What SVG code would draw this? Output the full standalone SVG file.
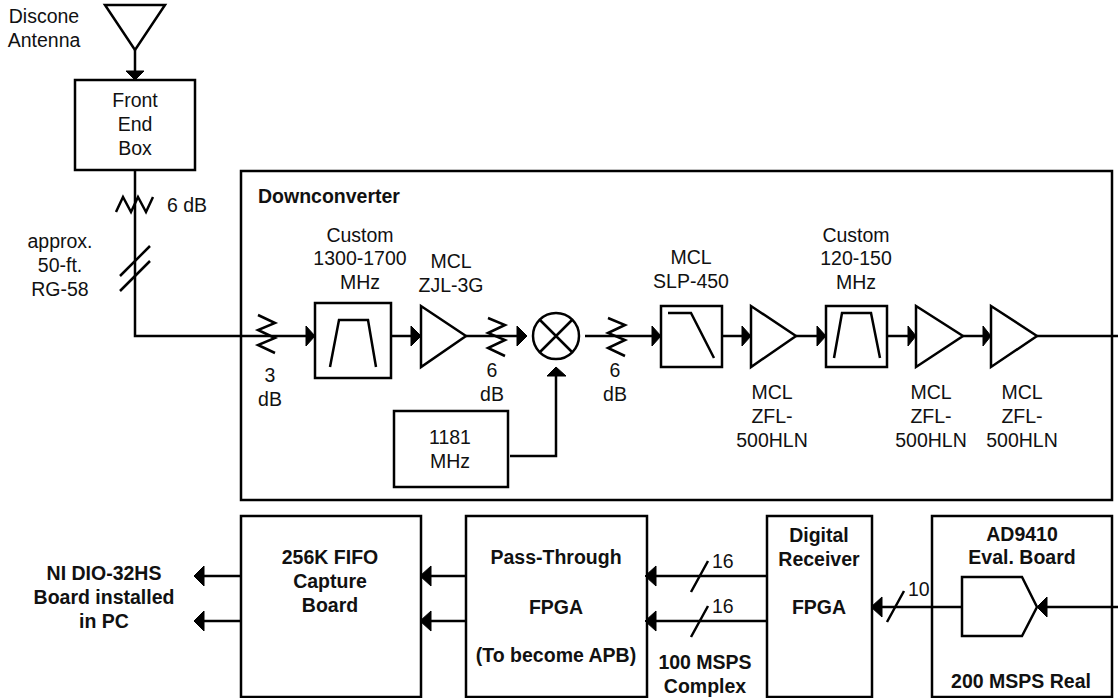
<svg xmlns="http://www.w3.org/2000/svg" width="1118" height="698" viewBox="0 0 1118 698">
<style>
text{font-family:"Liberation Sans",Arial,sans-serif;font-size:19.5px;fill:#111;text-anchor:middle}
.b{font-weight:bold}
.l{text-anchor:start}
.s{fill:none;stroke:#000;stroke-width:2.5}
.w{fill:#fff;stroke:#000;stroke-width:2.5}
.a{fill:#000;stroke:#000;stroke-width:1;stroke-linejoin:round}
</style>
<rect width="1118" height="698" fill="#fff"/>
<g id="connectors">
<path class="s" d="M135 50V80M135 170V336H315M391 336H421M466 336H517M585 336H652M722 336H743M796 336H817M887 336H908M963 336H983M1037 336H1118"/>
<path class="s" d="M510 456H556V376"/>
<path class="s" d="M767 576H655M767 621H655M466 576H430M466 621H430M241 576H204M241 621H204"/>
<path class="s" d="M1118 607H1046M962 607H881"/>
<path class="s" d="M120 276L150 246M120 291L150 261M691 592L708 561M691 637L708 606M887 622L904 591"/>
<path class="a" d="M126 71H144L135 80Z"/>
<path class="a" d="M306 326L315 336L306 346ZM411 326L421 336L411 346ZM517 326L527 336L517 346ZM652 326L661 336L652 346ZM742 326L751 336L742 346ZM817 326L826 336L817 346ZM908 326L916 336L908 346ZM983 326L991 336L983 346Z"/>
<path class="a" d="M547 376H566L556 367Z"/>
<path class="a" d="M656 566L645 576L656 586ZM656 611L645 621L656 631ZM431 566L420 576L431 586ZM431 611L420 621L431 631ZM204 566L194 576L204 586ZM204 611L194 621L204 631ZM882 597L871 607L882 617ZM1047 597L1037 607L1047 617Z"/>
</g>
<g id="antenna"><path class="w" d="M105 5H165L135 50Z"/><text x="44" y="23">Discone</text><text x="44" y="47">Antenna</text></g>
<g id="front-end"><rect class="w" x="75" y="80" width="120" height="90"/><text x="135" y="107">Front</text><text x="135" y="131">End</text><text x="135" y="155">Box</text></g>
<g id="atten-6db"><path class="s" d="M116 212L123 197L131 212L138 197L146 212L153 197"/><text class="l" x="167" y="212">6 dB</text></g>
<g id="cable"><text x="60" y="248">approx.</text><text x="60" y="272">50-ft.</text><text x="60" y="296">RG-58</text></g>
<g id="downconverter"><rect class="s" x="241" y="171" width="871" height="329"/><text class="b l" x="258" y="203">Downconverter</text></g>
<g id="atten-3db"><path class="s" d="M258 315L275 323L258 330L275 338L258 345L275 353"/><text x="270" y="382">3</text><text x="270" y="406">dB</text></g>
<g id="filter-1"><rect class="w" x="315" y="303" width="76" height="75"/><path class="s" d="M330 367L339 320H368L376 367"/><text x="360" y="242">Custom</text><text x="360" y="265">1300-1700</text><text x="360" y="289">MHz</text></g>
<g id="amp-1"><path class="w" d="M421 306V367L466 336Z"/><text x="451" y="268">MCL</text><text x="451" y="292">ZJL-3G</text></g>
<g id="atten-6a"><path class="s" d="M488 318L505 325L488 333L505 340L488 348L505 356"/><text x="492" y="377">6</text><text x="492" y="401">dB</text></g>
<g id="mixer"><circle class="w" cx="556" cy="336" r="23"/><path class="s" d="M540 320L572 352M572 320L540 352"/></g>
<g id="lo"><rect class="w" x="394" y="411" width="114" height="76"/><text x="450" y="444">1181</text><text x="450" y="468">MHz</text></g>
<g id="atten-6b"><path class="s" d="M608 318L625 325L608 333L625 340L608 348L625 356"/><text x="615" y="377">6</text><text x="615" y="401">dB</text></g>
<g id="lpf"><rect class="w" x="661" y="306" width="61" height="61"/><path class="s" d="M668 313H691L714 358"/><text x="691" y="264">MCL</text><text x="691" y="288">SLP-450</text></g>
<g id="amp-2"><path class="w" d="M751 306V367L796 336Z"/><text x="772" y="399">MCL</text><text x="772" y="423">ZFL-</text><text x="772" y="447">500HLN</text></g>
<g id="filter-2"><rect class="w" x="826" y="306" width="61" height="61"/><path class="s" d="M834 358L842 313H871L880 358"/><text x="856" y="242">Custom</text><text x="856" y="265">120-150</text><text x="856" y="289">MHz</text></g>
<g id="amp-3"><path class="w" d="M916 306V367L963 336Z"/><text x="931" y="399">MCL</text><text x="931" y="423">ZFL-</text><text x="931" y="447">500HLN</text></g>
<g id="amp-4"><path class="w" d="M991 306V367L1037 336Z"/><text x="1022" y="399">MCL</text><text x="1022" y="423">ZFL-</text><text x="1022" y="447">500HLN</text></g>
<g id="pc"><text class="b" x="104" y="580">NI DIO-32HS</text><text class="b" x="104" y="604">Board installed</text><text class="b" x="104" y="628">in PC</text></g>
<g id="fifo"><rect class="s" x="241" y="516" width="180" height="181"/><text class="b" x="330" y="564">256K FIFO</text><text class="b" x="330" y="588">Capture</text><text class="b" x="330" y="612">Board</text></g>
<g id="pass-through"><rect class="s" x="466" y="516" width="181" height="181"/><text class="b" x="556" y="564">Pass-Through</text><text class="b" x="556" y="614">FPGA</text><text class="b" x="556" y="662">(To become APB)</text></g>
<g id="digital-receiver"><rect class="s" x="767" y="516" width="105" height="181"/><text class="b" x="819" y="542">Digital</text><text class="b" x="819" y="566">Receiver</text><text class="b" x="819" y="614">FPGA</text></g>
<g id="ad9410"><rect class="s" x="932" y="516" width="180" height="181"/><text class="b" x="1022" y="541">AD9410</text><text class="b" x="1022" y="564">Eval. Board</text><path class="s" d="M962 577H1022L1037 607L1022 636H962Z"/><text class="b" x="1021" y="688">200 MSPS Real</text></g>
<g id="labels"><text class="l" x="712" y="568">16</text><text class="l" x="712" y="613">16</text><text class="l" x="908" y="596">10</text><text class="b" x="705" y="669">100 MSPS</text><text class="b" x="705" y="693">Complex</text></g>
</svg>
